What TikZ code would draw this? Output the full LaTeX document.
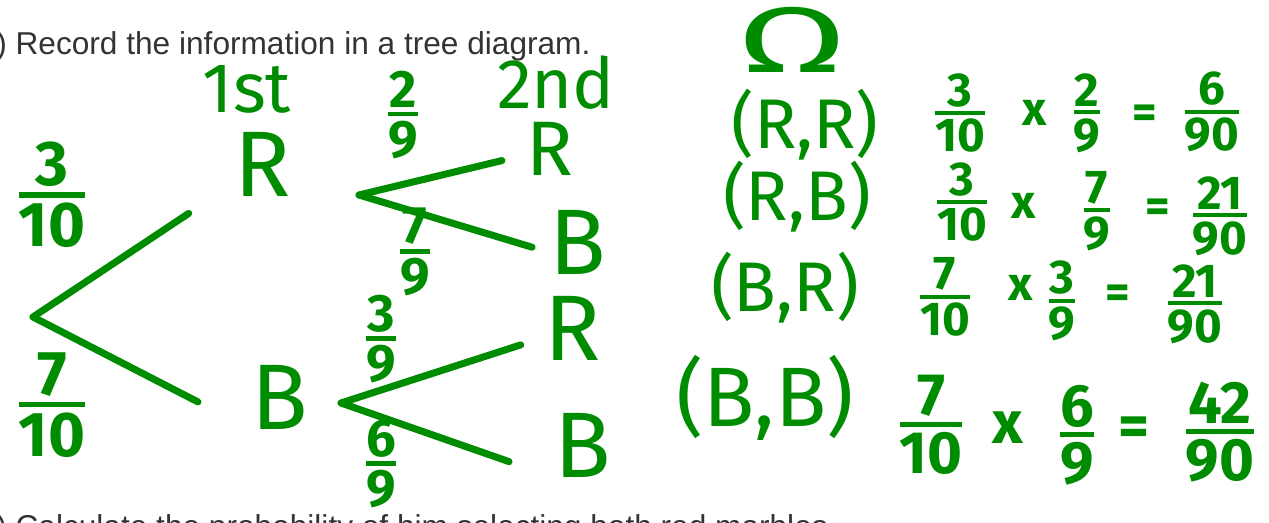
\documentclass[tikz,border=0pt]{standalone}
\usepackage{amsmath}
\usepackage{graphicx}
\usepackage{fontspec}
\setmainfont{Liberation Sans}
\newfontfamily\handfont{Fira Sans}
\definecolor{ink}{RGB}{0,140,0}
\definecolor{printgrey}{RGB}{51,51,51}
% handwritten fraction: full size digits, thick bar
\newcommand{\hfrac}[2]{$\genfrac{}{}{0.085em}{1}{\mbox{#1}}{\mbox{#2}}$}

\begin{document}
\begin{tikzpicture}[
        x=0.02cm, y=-0.02cm,
        branch/.style={draw=ink, line width=4pt, line cap=round},
        leaf/.style={text=ink, inner sep=0pt, font=\handfont\fontsize{53}{57}\selectfont},
        smallleaf/.style={leaf, font=\handfont\fontsize{44}{48}\selectfont},
        heading/.style={text=ink, inner sep=0pt, font=\handfont\fontsize{40}{44}\selectfont},
        prob/.style={text=ink, inner sep=0pt, font=\handfont\bfseries\fontsize{36}{40}\selectfont},
        smallprob/.style={prob, font=\handfont\bfseries\fontsize{30}{34}\selectfont},
        outcome/.style={text=ink, inner sep=0pt, font=\handfont\fontsize{40}{44}\selectfont},
        calc/.style={text=ink, inner sep=0pt, font=\handfont\bfseries\fontsize{27}{30}\selectfont},
        bigcalc/.style={calc, font=\handfont\bfseries\fontsize{34}{38}\selectfont},
        question/.style={text=printgrey, inner sep=0pt, anchor=base west, font=\fontsize{18}{21}\selectfont}
    ]

    \useasboundingbox (0,0) rectangle (1269,523);
    \clip (0,0) rectangle (1269,523);

    % Printed questions (cut off at the edges)
    \node[question] (q-b) at (-4,55) {) Record the information in a tree diagram.};
    \node[question] (q-c) at (-4,538) {) Calculate the probability of him selecting both red marbles.};

    % Tree: forks
    \coordinate (root) at (33,317);
    \coordinate (fork-r) at (359,195);
    \coordinate (fork-b) at (341,403);

    % Headings
    \node[heading] (first) at (247,89) {1st};
    \node[heading] (second) at (556,83) {2nd};

    % Outcomes of each draw
    \node[leaf] (first-r) at (263,164) {R};
    \node[leaf] (first-b) at (280,397) {B};
    \node[smallleaf] (second-rr) at (550,149) {R};
    \node[leaf] (second-rb) at (578,242) {B};
    \node[leaf] (second-br) at (573,328) {R};
    \node[leaf] (second-bb) at (583,445) {B};

    % Branches
    \draw[branch, shorten >=1.1cm] (root) -- (first-r);
    \draw[branch, shorten >=1.2cm] (root) -- (first-b.south west);
    \draw[branch, shorten >=0.5cm] (fork-r) -- (second-rr);
    \draw[branch, shorten >=0.36cm] (fork-r) -- (second-rb.200);
    \draw[branch, shorten >=0.5cm] (fork-b) -- (second-br);
    \draw[branch, shorten >=0.96cm] (fork-b) -- (second-bb.south west);

    % Branch probabilities
    \node[prob] (p-r) at (52,195) {\hfrac{3}{10}};
    \node[prob] (p-b) at (52,405) {\hfrac{7}{10}};
    \node[smallprob] (p-rr) at (403,115) {\hfrac{2}{9}};
    \node[smallprob] (p-rb) at (415,252) {\hfrac{7}{9}};
    \node[smallprob] (p-br) at (381,339) {\hfrac{3}{9}};
    \node[smallprob] (p-bb) at (381,464) {\hfrac{6}{9}};

    % Sample space
    \node[leaf] (omega) at (792,40) {\scalebox{1.7}[1]{Ω}};
    \node[outcome] (rr) at (805,125) {(R,R)};
    \node[outcome] (rb) at (797,197) {(R,B)};
    \node[outcome] (br) at (785,288) {(B,R)};
    \node[outcome, font=\handfont\fontsize{48}{52}\selectfont] (bb) at (765,398) {(B,B)};

    % Products
    \node[calc] (rr-a) at (960,113) {\hfrac{3}{10}};
    \node[calc] (rr-x) at (1035,113) {x};
    \node[calc] (rr-b) at (1087,113) {\hfrac{2}{9}};
    \node[calc] (rr-eq) at (1145,117) {=};
    \node[calc] (rr-p) at (1212,112) {\hfrac{6}{90}};

    \node[calc] (rb-a) at (962,202) {\hfrac{3}{10}};
    \node[calc] (rb-x) at (1024,206) {x};
    \node[calc] (rb-b) at (1097,211) {\hfrac{7}{9}};
    \node[calc] (rb-eq) at (1158,211) {=};
    \node[calc] (rb-p) at (1220,216) {\hfrac{21}{90}};

    \node[calc] (br-a) at (945,297) {\hfrac{7}{10}};
    \node[calc] (br-x) at (1021,288) {x};
    \node[calc] (br-b) at (1062,301) {\hfrac{3}{9}};
    \node[calc] (br-eq) at (1118,297) {=};
    \node[calc] (br-p) at (1195,304) {\hfrac{21}{90}};

    \node[bigcalc] (bb-a) at (931,425) {\hfrac{7}{10}};
    \node[bigcalc] (bb-x) at (1008,428) {x};
    \node[bigcalc] (bb-b) at (1077,435) {\hfrac{6}{9}};
    \node[bigcalc] (bb-eq) at (1134,432) {=};
    \node[bigcalc] (bb-p) at (1220,432) {\hfrac{42}{90}};

\end{tikzpicture}
\end{document}
